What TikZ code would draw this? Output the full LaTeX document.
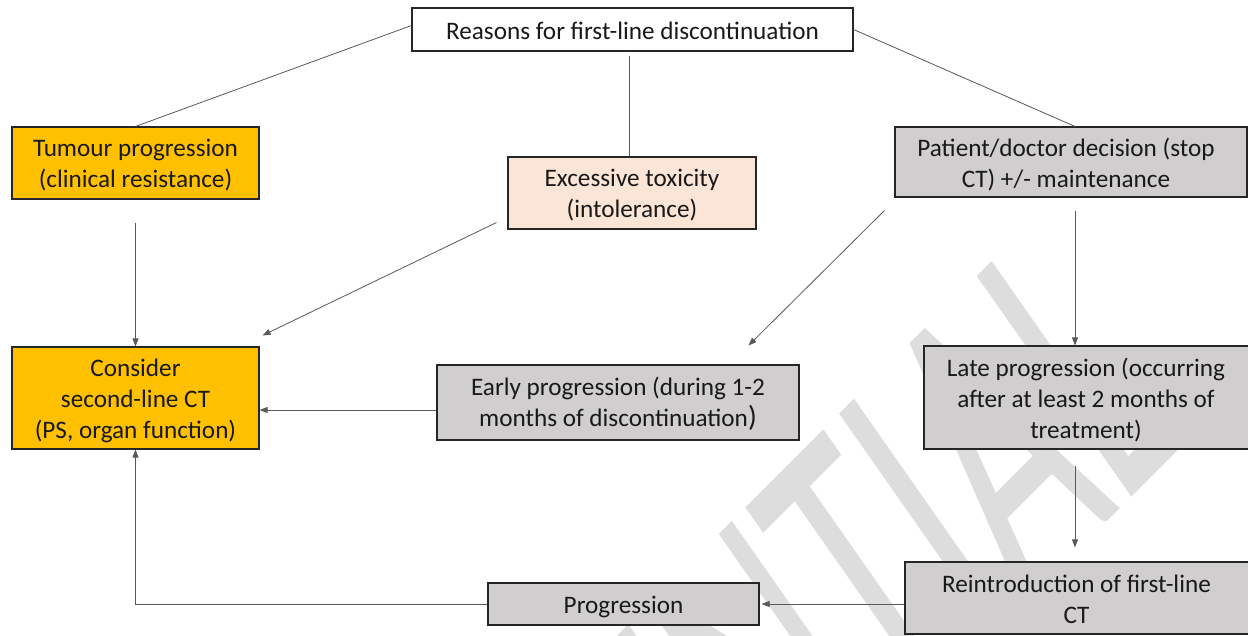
\documentclass[tikz,border=0pt]{standalone}
\usepackage{fontspec}
\setmainfont{Carlito}
\usetikzlibrary{arrows.meta}
\definecolor{gold}{HTML}{FFC000}
\definecolor{peach}{HTML}{FBE5D6}
\definecolor{boxgray}{HTML}{D0CECE}
\definecolor{wmgray}{HTML}{DDDDDD}
\begin{document}
\begin{tikzpicture}[x=1pt,y=-1pt,
  box/.style={draw=black!85, line width=1.1pt, inner sep=0pt},
  txt/.style={inner sep=0pt, align=center, font=\fontsize{25.2}{31}\selectfont, text=black!90},
  conn/.style={draw=black!65, line width=0.8pt},
  arr/.style={conn, -{Triangle[length=8pt,width=6pt]}}]
\clip (0,0) rectangle (1248,635);
\fill[white] (0,0) rectangle (1248,635);
\begin{scope}[shift={(1191.7,437.3)}, cm={0.707,0.707,-0.574,0.819,(0,0)}]
  \node[transform shape, anchor=base east, font=\fontsize{420}{420}\selectfont, text=wmgray, inner sep=0pt] (wm) at (0,0) {\scalebox{0.567}[1]{CONFIDENTIAL}};
\end{scope}

\node[box, fill=white, minimum width=441pt, minimum height=43pt] (R) at (632.5,29.5) {};
\node[box, fill=gold, minimum width=247pt, minimum height=72pt] (T) at (135.5,163) {};
\node[box, fill=peach, minimum width=248pt, minimum height=72pt] (E) at (632,193) {};
\node[box, fill=boxgray, minimum width=352pt, minimum height=70pt] (P) at (1071,162) {};
\node[box, fill=gold, minimum width=247pt, minimum height=102pt] (C) at (135.5,398) {};
\node[box, fill=boxgray, minimum width=362pt, minimum height=75pt] (Ea) at (618,402.5) {};
\node[box, fill=boxgray, minimum width=328pt, minimum height=103pt] (L) at (1088,397.5) {};
\node[box, fill=boxgray, minimum width=271pt, minimum height=42pt] (Pr) at (623.5,604) {};
\node[box, fill=boxgray, minimum width=347pt, minimum height=72pt] (Re) at (1078.5,598) {};

\node[txt] (Rt) at ([yshift=-1.5pt]R.center) {Reasons for first-line discontinuation};
\node[txt] (Tt) at ([yshift=-2.5pt]T.center) {Tumour progression\\(clinical resistance)};
\node[txt] (Et) at ([yshift=-2.5pt]E.center) {Excessive toxicity\\(intolerance)};
\node[txt] (Pt) at ([xshift=-5pt,yshift=-2.5pt]P.center) {Patient/doctor decision (stop\\CT) +/- maintenance};
\node[txt] (Ct) at ([yshift=-2.5pt]C.center) {Consider\\second-line CT\\(PS, organ function)};
\node[txt] (Eat) at ([yshift=-1.5pt]Ea.center) {Early progression (during 1-2\\months of discontinuation{\fontsize{29}{31}\selectfont)}};
\node[txt] (Lt) at ([xshift=-2pt,yshift=-2.5pt]L.center) {Late progression (occurring\\after at least 2 months of\\treatment)};
\node[txt] (Prt) at ([yshift=-2.5pt]Pr.center) {Progression};
\node[txt] (Ret) at ([xshift=-2pt,yshift=-1.5pt]Re.center) {Reintroduction of first-line\\CT};

\draw[conn] ([yshift=4pt]R.west) -- (T.north);
\draw[conn] (R.east) -- ([xshift=4pt]P.north);
\draw[conn] ([xshift=-3.5pt,yshift=-4pt]R.south) -- ([xshift=-3pt]E.north);
\draw[arr] ([yshift=-23pt]T.south) -- (C.north);
\draw[arr] ([xshift=-11pt,yshift=7pt]E.south west) -- ([xshift=3pt,yshift=11pt]C.north east);
\draw[arr] ([xshift=-10pt,yshift=-13pt]P.south west) -- ([xshift=-51pt,yshift=19pt]Ea.north east);
\draw[arr] ([xshift=4pt,yshift=-13pt]P.south) -- ([xshift=4pt]P.south |- L.north);
\draw[arr] ([yshift=-7.5pt]Ea.west) -- ([yshift=-7.5pt]Ea.west -| C.east);
\draw[arr, shorten <=16pt, shorten >=14pt] ([xshift=-3.5pt]Re.north |- L.south) -- ([xshift=-3.5pt]Re.north);
\draw[arr] (Re.west |- Pr.east) -- ([xshift=2pt]Pr.east);
\draw[arr] (Pr.west) -| (C.south);
\end{tikzpicture}
\end{document}
